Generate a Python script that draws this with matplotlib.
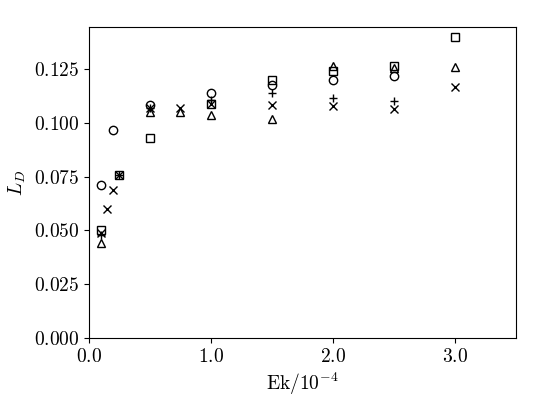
import matplotlib
matplotlib.use("Agg")
import matplotlib.pyplot as plt
from matplotlib.ticker import FormatStrFormatter

plt.rcParams["mathtext.fontset"] = "cm"
plt.rcParams["font.family"] = "serif"
plt.rcParams["font.serif"] = ["cmr10", "DejaVu Serif"]
plt.rcParams["axes.formatter.use_mathtext"] = True

# Ek / 1e-4 and L_D for each marker series
ek_circle = [0.1, 0.2, 0.5, 1.0, 1.5, 2.0, 2.5]
ld_circle = [0.071, 0.097, 0.1085, 0.114, 0.118, 0.120, 0.122]

ek_cross = [0.1, 0.15, 0.2, 0.25, 0.5, 0.75, 1.0, 1.5, 2.0, 2.5, 3.0]
ld_cross = [0.049, 0.060, 0.069, 0.076, 0.107, 0.107, 0.109, 0.1085, 0.108, 0.1065, 0.117]

ek_plus = [0.1, 0.25, 0.5, 1.0, 1.5, 2.0, 2.5]
ld_plus = [0.048, 0.076, 0.107, 0.111, 0.114, 0.1115, 0.1105]

ek_square = [0.1, 0.25, 0.5, 1.0, 1.5, 2.0, 2.5, 3.0]
ld_square = [0.050, 0.076, 0.093, 0.109, 0.120, 0.1245, 0.1265, 0.140]

ek_tri = [0.1, 0.5, 0.75, 1.0, 1.5, 2.0, 2.5, 3.0]
ld_tri = [0.044, 0.105, 0.105, 0.104, 0.102, 0.1265, 0.1255, 0.126]

fig = plt.figure(figsize=(5.45, 4.09), dpi=100)
ax = fig.add_axes([0.163, 0.174, 0.784, 0.760])

ms = 6
ax.plot(ek_circle, ld_circle, "o", mfc="none", mec="black", ms=ms)
ax.plot(ek_cross, ld_cross, "x", color="black", ms=ms)
ax.plot(ek_plus, ld_plus, "+", color="black", ms=ms)
ax.plot(ek_square, ld_square, "s", mfc="none", mec="black", ms=ms)
ax.plot(ek_tri, ld_tri, "^", mfc="none", mec="black", ms=ms)

ax.set_xlim(0, 3.5)
ax.set_ylim(bottom=0)
ax.set_xticks([0, 1, 2, 3])
ax.xaxis.set_major_formatter(FormatStrFormatter("$%.1f$"))
ax.yaxis.set_major_formatter(FormatStrFormatter("$%.3f$"))
ax.tick_params(labelsize=14)
ax.set_xlabel(r"$\mathrm{Ek}/10^{-4}$", fontsize=14)
ax.set_ylabel(r"$L_D$", fontsize=14)

fig.savefig("out.png", dpi=100)
